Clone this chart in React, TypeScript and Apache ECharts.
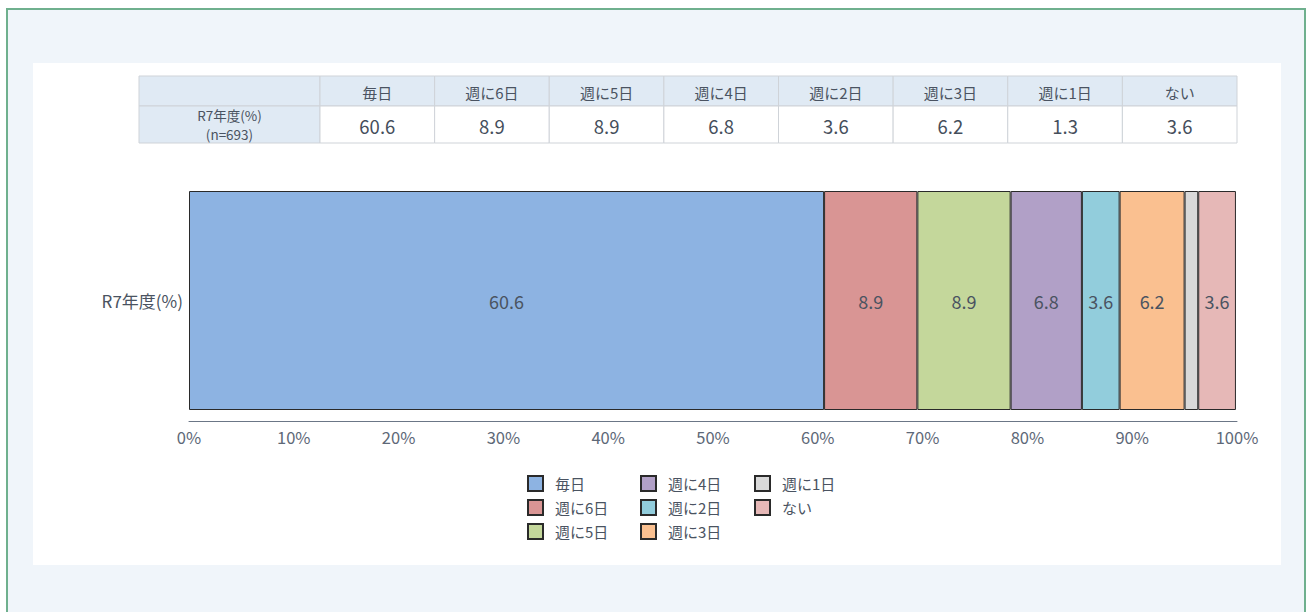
import React, { useEffect, useRef } from "react";
import * as echarts from "echarts";

const categories = ["毎日", "週に6日", "週に5日", "週に4日", "週に2日", "週に3日", "週に1日", "ない"];
const values = [60.6, 8.9, 8.9, 6.8, 3.6, 6.2, 1.3, 3.6];
const hiddenLabels = ["週に1日"];
const colors = ["#8db3e2", "#d99594", "#c4d79b", "#b1a0c7", "#92cddc", "#fac090", "#d9d9d9", "#e6b8b7"];
const rowLabel = "R7年度(%)";
const tableRowLabelLines = ["R7年度(%)", "(n=693)"];
const legendColumns = [
  ["毎日", "週に6日", "週に5日"],
  ["週に4日", "週に2日", "週に3日"],
  ["週に1日", "ない"],
];

const FONT = '"Noto Sans CJK JP", "Noto Sans", sans-serif';
const TEXT = "#4a5361";

export default function App() {
  const ref = useRef<HTMLDivElement>(null);
  useEffect(() => {
    if (!ref.current) return;
    const chart = echarts.init(ref.current, undefined, { renderer: "svg" });

    const tX = 139, tY = 76, firstW = 181, colW = (1237 - 320) / categories.length;
    const hH = 30, dH = 37;
    const hdrBg = "#e0eaf4", border = "#cfd3d8";
    const graphic: any[] = [
      {
        type: "rect", z: -10,
        shape: { x: 7, y: 9, width: 1298, height: 640 },
        style: { fill: "#f0f5fa", stroke: "#6fb08e", lineWidth: 2 },
      },
      {
        type: "rect", z: -9,
        shape: { x: 33, y: 63, width: 1248, height: 502 },
        style: { fill: "#ffffff" },
      },
    ];
    const cell = (x: number, y: number, w: number, h: number, fill: string) => ({
      type: "rect", z: -8,
      shape: { x, y, width: w, height: h },
      style: { fill, stroke: border, lineWidth: 1 },
    });
    const txt = (x: number, y: number, text: string, size: number, color: string) => ({
      type: "text", z: -7, x, y,
      style: {
        text, fill: color, fontSize: size, fontFamily: FONT,
        align: "center", verticalAlign: "middle",
        textAlign: "center", textVerticalAlign: "middle",
      },
    });
    graphic.push(cell(tX, tY, firstW, hH, hdrBg));
    graphic.push(cell(tX, tY + hH, firstW, dH, hdrBg));
    tableRowLabelLines.forEach((line, k) => {
      graphic.push(txt(tX + firstW / 2, tY + hH + 8.5 + k * 19.5, line, 13.5, TEXT));
    });
    categories.forEach((c, i) => {
      const x = tX + firstW + i * colW;
      graphic.push(cell(x, tY, colW, hH, hdrBg));
      graphic.push(cell(x, tY + hH, colW, dH, "#ffffff"));
      graphic.push(txt(x + colW / 2, tY + hH / 2 + 1, c, 15, TEXT));
      graphic.push(txt(x + colW / 2, tY + hH + dH / 2 + 1, values[i].toFixed(1), 18.5, "#454e5b"));
    });

    const legendLefts = [527, 640, 754];
    const legends = legendColumns.map((data, i) => ({
      data,
      orient: "vertical",
      left: legendLefts[i],
      top: 475,
      padding: 0,
      icon: "rect",
      itemWidth: 15,
      itemHeight: 15,
      itemGap: 7,
      selectedMode: false,
      textStyle: { fontSize: 15, color: TEXT, fontFamily: FONT, padding: [0, 0, 0, 7] },
    }));

    chart.setOption({
      animation: false,
      textStyle: { fontFamily: FONT },
      graphic,
      legend: legends,
      grid: { left: 189, right: 71, top: 180, bottom: 191, containLabel: false },
      xAxis: {
        type: "value",
        min: 0,
        max: 100,
        interval: 10,
        axisLine: { show: true, lineStyle: { color: "#6b7686", width: 1 } },
        axisTick: { show: false },
        splitLine: { show: false },
        axisLabel: { formatter: "{value}%", color: "#5d6877", fontSize: 16.5, margin: 8, fontFamily: FONT },
      },
      yAxis: {
        type: "category",
        data: [rowLabel],
        axisLine: { show: false },
        axisTick: { show: false },
        axisLabel: { color: TEXT, fontSize: 17, margin: 6, fontFamily: FONT },
      },
      series: categories.map((c, i) => ({
        name: c,
        type: "bar",
        stack: "total",
        barWidth: 219,
        data: [values[i]],
        itemStyle: { color: colors[i], borderColor: "#2a2a2a", borderWidth: 1 },
        label: {
          show: !hiddenLabels.includes(c),
          position: "inside",
          formatter: (p: any) => Number(p.value).toFixed(1),
          color: "#4a5361",
          fontSize: 18,
          fontFamily: FONT,
        },
      })),
    });
    return () => chart.dispose();
  }, []);
  return (
    <div
      ref={ref}
      style={{ position: "absolute", left: 0, top: 0, width: 1308, height: 612 }}
    />
  );
}
